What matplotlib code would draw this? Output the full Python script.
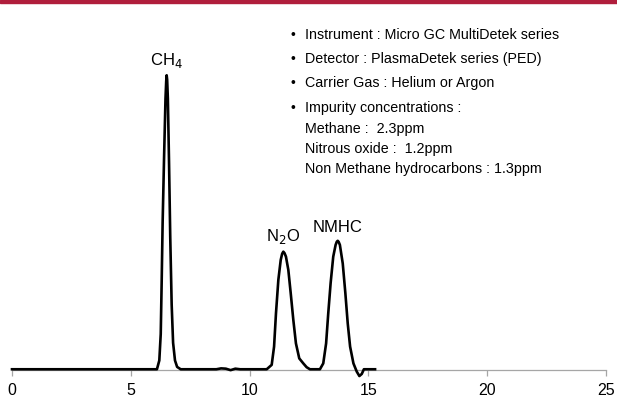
import matplotlib.pyplot as plt
from matplotlib.patches import Rectangle

# --- chromatogram trace (time in min, signal in a.u.)
time = [0.0, 6.10, 6.20, 6.26, 6.30, 6.34, 6.40, 6.46, 6.49, 6.51, 6.53, 6.56,
        6.61, 6.66, 6.72, 6.78, 6.86, 6.95, 7.10,
        8.60, 8.80, 9.00, 9.20, 9.40, 9.60,
        10.72, 10.93, 11.03, 11.11, 11.21, 11.31, 11.37, 11.42, 11.47, 11.53,
        11.63, 11.73, 11.84, 11.95, 12.09, 12.26, 12.40, 12.54,
        12.96, 13.10, 13.22, 13.31, 13.41, 13.52, 13.62, 13.67, 13.71, 13.75,
        13.80, 13.92, 14.03, 14.13, 14.23, 14.37, 14.51, 14.62, 14.72, 14.81,
        15.28]
signal = [0.0, 0.0, 3.0, 12.0, 30.0, 50.0, 72.0, 92.0, 98.0, 100.0, 98.5, 92.0,
          70.0, 45.0, 22.0, 9.0, 3.0, 0.8, 0.0,
          0.0, 0.3, 0.2, -0.3, 0.2, 0.0,
          0.0, 1.5, 7.7, 19.0, 30.4, 37.2, 39.3, 40.0, 39.5, 38.3,
          33.8, 25.9, 16.8, 8.8, 3.7, 2.0, 0.7, 0.0,
          0.0, 2.0, 8.8, 19.0, 29.3, 38.3, 42.3, 43.4, 43.7, 43.3,
          42.3, 36.0, 25.9, 15.6, 7.7, 2.0, -0.8, -2.3, -1.6, 0.0,
          0.0]

peak_names = ["CH$_4$", "N$_2$O", "NMHC"]
peak_times = [6.51, 11.42, 13.71]
peak_heights = [100.0, 40.0, 43.7]

xticks = [0, 5, 10, 15, 20, 25]

info_lines = [
    (True, "Instrument : Micro GC MultiDetek series"),
    (True, "Detector : PlasmaDetek series (PED)"),
    (True, "Carrier Gas : Helium or Argon"),
    (True, "Impurity concentrations :"),
    (False, "Methane :  2.3ppm"),
    (False, "Nitrous oxide :  1.2ppm"),
    (False, "Non Methane hydrocarbons : 1.3ppm"),
]
info_baselines = [39, 63, 87, 112, 133, 153, 173]  # pixel rows

plt.rcParams["font.family"] = ["Liberation Sans", "DejaVu Sans"]

W, H = 617, 419
fig = plt.figure(figsize=(W / 100, H / 100), dpi=100)
ax = fig.add_axes([12 / W, (H - 370) / H, 594 / W, 340 / H])

ax.plot(time, signal, color="black", lw=1.9, clip_on=False, zorder=3,
        solid_joinstyle="round")
ax.set_xlim(0, 25)
ax.set_ylim(-0.25, 115.4)

for s in ["top", "right", "left"]:
    ax.spines[s].set_visible(False)
ax.spines["bottom"].set_color("#a6a6a6")
ax.spines["bottom"].set_linewidth(0.9)
ax.set_yticks([])
ax.set_xticks(xticks)
ax.tick_params(axis="x", colors="#a6a6a6", length=4, width=0.9,
               labelcolor="black", labelsize=11.5, pad=5)

for name, t, h in zip(peak_names, peak_times, peak_heights):
    ax.annotate(name, (t, h), xytext=(0, 4), textcoords="offset points",
                ha="center", va="bottom", fontsize=12)

# info block
for (bullet, txt), py in zip(info_lines, info_baselines):
    y = 1 - py / H
    if bullet:
        fig.text(293 / W, y, "•", ha="center", va="baseline", fontsize=10)
    fig.text(305 / W, y, txt, ha="left", va="baseline", fontsize=10.3)

# red band along the top
fig.patches.append(Rectangle((0, 1 - 3 / H), 1, 3 / H, transform=fig.transFigure,
                             color="#b01e3c", zorder=10))

fig.savefig("out.png", dpi=100)
